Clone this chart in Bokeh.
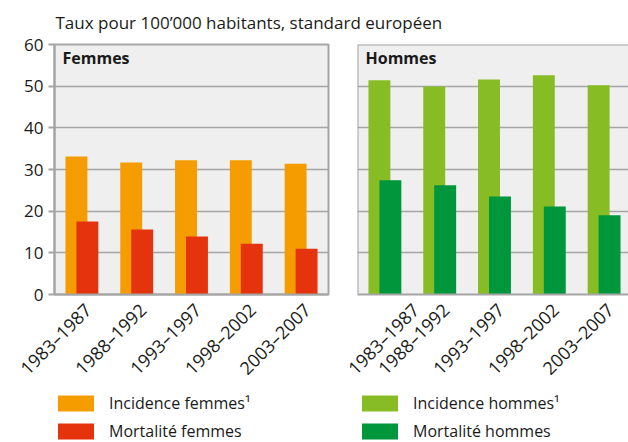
import numpy as np
from bokeh.plotting import figure
from bokeh.models import Range1d, FixedTicker, Label, Legend, LegendItem, Span, ColumnDataSource
from bokeh.layouts import column, row
from bokeh.embed import file_html
from bokeh.resources import INLINE

# ---- data ----
periods = ["1983–1987", "1988–1992", "1993–1997", "1998–2002", "2003–2007"]
inc_f = [33.1, 31.7, 32.2, 32.2, 31.4]
mort_f = [17.5, 15.6, 13.9, 12.2, 11.0]
inc_h = [51.4, 49.9, 51.6, 52.6, 50.2]
mort_h = [27.4, 26.2, 23.5, 21.1, 19.0]
y_ticks = [0, 10, 20, 30, 40, 50, 60]
title_text = "Taux pour 100’000 habitants, standard européen"
panel_names = ["Femmes", "Hommes"]
legend_labels = [["Incidence femmes¹", "Mortalité femmes"],
                 ["Incidence hommes¹", "Mortalité hommes"]]

FONT = "Open Sans"
GRAY = "#a5a5a5"
BG = "#efefef"
C_INC_F = "#f59c00"
C_MORT_F = "#e5330d"
C_INC_H = "#87bc24"
C_MORT_H = "#00963c"
TXT = "#1a1a1a"

xs = np.arange(len(periods)) + 0.5


def panel(name, inc, mort, c_inc, c_mort, first):
    n = len(periods)
    fw = 274 if first else 271
    p = figure(frame_width=fw, frame_height=250, title=None,
               x_range=Range1d(0, n * fw / 274), y_range=Range1d(0, 60),
               output_backend="svg", toolbar_location=None,
               min_border_left=54 if first else 15, min_border_right=14 if first else 0,
               min_border_top=11, min_border_bottom=98,
               background_fill_color=BG, border_fill_color="white",
               y_axis_location="left" if first else None)
    src = ColumnDataSource(dict(xi=xs - 0.1, xm=xs + 0.1, inc=inc, mort=mort))
    p.vbar(x="xi", top="inc", width=0.4, source=src, fill_color=c_inc, line_color=None)
    p.vbar(x="xm", top="mort", width=0.4, source=src, fill_color=c_mort, line_color=None)

    if first:
        p.outline_line_color = GRAY
        p.outline_line_width = 2
    else:
        p.outline_line_color = None
        p.add_layout(Span(location=60, dimension="width", line_color=GRAY, line_width=2))
        p.add_layout(Span(location=0, dimension="height", line_color=GRAY, line_width=2))

    p.xgrid.visible = False
    p.ygrid.grid_line_color = GRAY
    p.ygrid.grid_line_width = 1.5
    p.ygrid.ticker = FixedTicker(ticks=y_ticks)

    if first:
        ya = p.yaxis[0]
        ya.ticker = FixedTicker(ticks=y_ticks)
        ya.axis_line_color = GRAY
        ya.axis_line_width = 2
        ya.minor_tick_line_color = None
        ya.major_tick_line_color = GRAY
        ya.major_tick_line_width = 2
        ya.major_tick_out = 6
        ya.major_tick_in = 0
        ya.major_label_standoff = 5
        ya.major_label_text_font = FONT
        ya.major_label_text_font_size = "17px"
        ya.major_label_text_color = TXT

    # tick labels sit slightly right of the group centre, as in the original
    lab_pos = xs + 0.11
    xa = p.xaxis[0]
    xa.ticker = FixedTicker(ticks=list(lab_pos))
    xa.major_label_overrides = {float(x): lab for x, lab in zip(lab_pos, periods)}
    xa.major_label_orientation = np.pi / 4
    xa.axis_line_color = GRAY
    xa.axis_line_width = 2
    xa.major_tick_line_color = None
    xa.minor_tick_line_color = None
    xa.major_label_standoff = 6
    xa.major_label_text_font = FONT
    xa.major_label_text_font_size = "18px"
    xa.major_label_text_color = TXT

    p.add_layout(Label(x=0, y=60, x_offset=8, y_offset=-13, text=name,
                       text_font=FONT, text_font_style="bold", text_font_size="16px",
                       text_color=TXT, text_baseline="alphabetic"))
    return p


p1 = panel(panel_names[0], inc_f, mort_f, C_INC_F, C_MORT_F, True)
p2 = panel(panel_names[1], inc_h, mort_h, C_INC_H, C_MORT_H, False)


def blank(h):
    f = figure(frame_width=628, frame_height=h, title=None,
               x_range=Range1d(0, 628), y_range=Range1d(0, h),
               output_backend="svg", toolbar_location=None, min_border=0,
               x_axis_location=None, y_axis_location=None, outline_line_color=None)
    f.grid.visible = False
    return f


# header with the unit line
hdr = blank(33)
hdr.add_layout(Label(x=55, y=11, text=title_text, text_font=FONT, text_font_size="17px",
                     text_color=TXT, text_baseline="alphabetic"))

# legend strip (hidden proxy renderers carry the swatch colours)
leg = blank(50)
proxies = {}
for key, vals, col in [("if", inc_f, C_INC_F), ("mf", mort_f, C_MORT_F),
                       ("ih", inc_h, C_INC_H), ("mh", mort_h, C_MORT_H)]:
    proxies[key] = leg.vbar(x=xs, top=vals, width=0.4, fill_color=col,
                            line_color=None, visible=False)


def make_legend(items, loc):
    return Legend(items=items, location=loc, orientation="vertical",
                  glyph_width=45, glyph_height=20, label_height=22, label_standoff=11,
                  spacing=6, padding=0, margin=0, border_line_color=None,
                  background_fill_alpha=0, inactive_fill_alpha=0,
                  label_text_font=FONT, label_text_font_size="16px",
                  label_text_color=TXT, label_text_baseline="middle")


leg.add_layout(make_legend([LegendItem(label=legend_labels[0][0], renderers=[proxies["if"]]),
                            LegendItem(label=legend_labels[0][1], renderers=[proxies["mf"]])],
                           (53, 0)))
leg.add_layout(make_legend([LegendItem(label=legend_labels[1][0], renderers=[proxies["ih"]]),
                            LegendItem(label=legend_labels[1][1], renderers=[proxies["mh"]])],
                           (357, 0)))

layout = column(hdr, row(p1, p2), leg)
open("out.html", "w").write(file_html(layout, INLINE))
